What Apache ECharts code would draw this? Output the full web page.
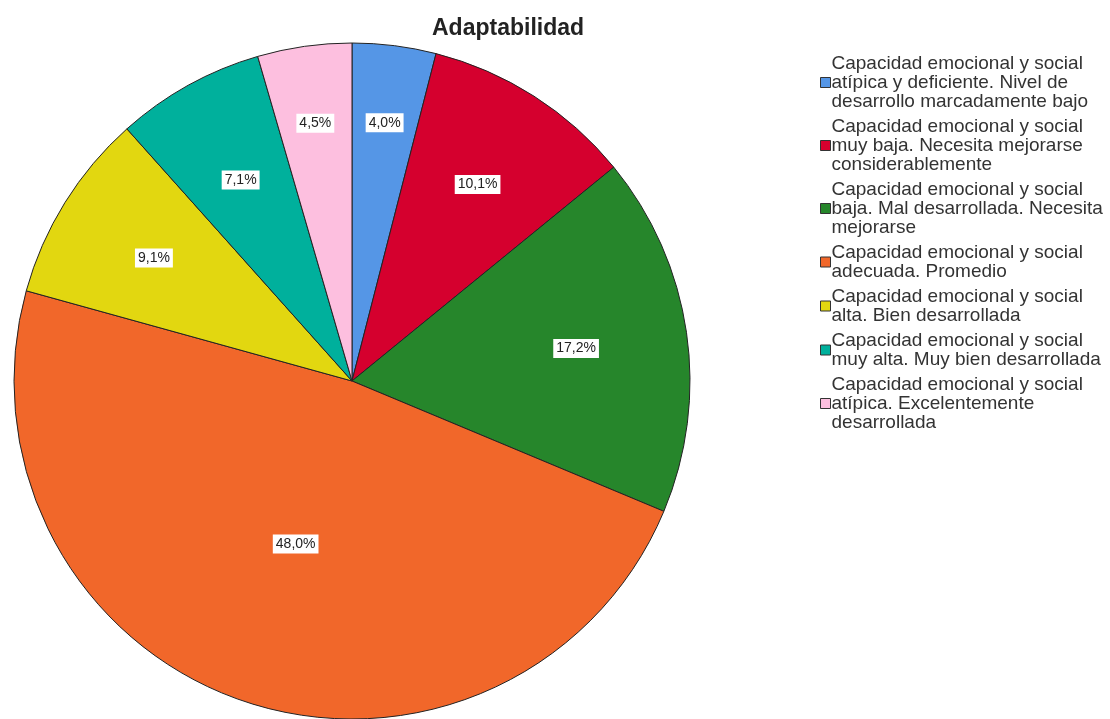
<!DOCTYPE html>
<html>
<head>
<meta charset="utf-8">
<title>Adaptabilidad</title>
<script src="https://cdn.jsdelivr.net/npm/echarts@6/dist/echarts.min.js"></script>
<style>
  html, body { margin: 0; padding: 0; background: #fff; }
  #pie { width: 1110px; height: 719px; }
</style>
</head>
<body>
<div id="pie"></div>
<script>
// categorías (en el orden de la leyenda / sentido horario desde las 12)
const categories = [
  "Capacidad emocional y social\natípica y deficiente. Nivel de\ndesarrollo marcadamente bajo",
  "Capacidad emocional y social\nmuy baja. Necesita mejorarse\nconsiderablemente",
  "Capacidad emocional y social\nbaja. Mal desarrollada. Necesita\nmejorarse",
  "Capacidad emocional y social\nadecuada. Promedio",
  "Capacidad emocional y social\nalta. Bien desarrollada",
  "Capacidad emocional y social\nmuy alta. Muy bien desarrollada",
  "Capacidad emocional y social\natípica. Excelentemente\ndesarrollada"
];
// porcentajes
const percents = [4.0, 10.1, 17.2, 48.0, 9.1, 7.1, 4.5];

const colors = ["#5596E6", "#D5002E", "#26862B", "#F1672A", "#E2D710", "#00B09C", "#FDBFDF"];
// distancia de la etiqueta al centro, en fracción del radio
const labelPos = [0.77, 0.69, 0.67, 0.51, 0.69, 0.68, 0.77];

const CX = 352, CY = 381, R = 338;

const chart = echarts.init(document.getElementById("pie"));

const opt = {
  animation: false,
  textStyle: { fontFamily: "Liberation Sans, Arial, sans-serif" },
  title: {
    text: "Adaptabilidad",
    left: 427,
    top: 12,
    textStyle: { fontSize: 23, fontWeight: "bold", color: "#222" }
  },
  legend: {
    orient: "vertical",
    left: 815,
    top: 49,
    icon: "rect",
    itemWidth: 10,
    itemHeight: 10,
    itemGap: 6,
    itemStyle: { borderColor: "#333", borderWidth: 1 },
    textStyle: { fontSize: 19, lineHeight: 19, color: "#333", padding: [0, 0, 0, -4] },
    data: categories
  },
  series: [
    {
      type: "pie",
      center: [CX, CY],
      radius: [0, R],
      startAngle: 90,
      clockwise: true,
      color: colors,
      itemStyle: { borderColor: "#222", borderWidth: 1 },
      label: {
        position: "inside",
        formatter: p => p.value.toFixed(1).replace(".", ",") + "%",
        fontSize: 14,
        color: "#222",
        backgroundColor: "#fff",
        padding: [3, 3, 2, 3]
      },
      labelLine: { show: false },
      emphasis: { disabled: true },
      // mover cada etiqueta a lo largo de su radio
      labelLayout: function (params) {
        const lr = params.labelRect;
        const lx = lr.x + lr.width / 2;
        const ly = lr.y + lr.height / 2;
        const dx = lx - CX, dy = ly - CY;
        const d = Math.sqrt(dx * dx + dy * dy) || 1;
        const target = labelPos[params.dataIndex] * R;
        return { x: CX + dx / d * target, y: CY + dy / d * target };
      },
      data: categories.map((name, i) => ({ name: name, value: percents[i] }))
    }
  ]
};

chart.setOption(opt);
</script>
</body>
</html>
